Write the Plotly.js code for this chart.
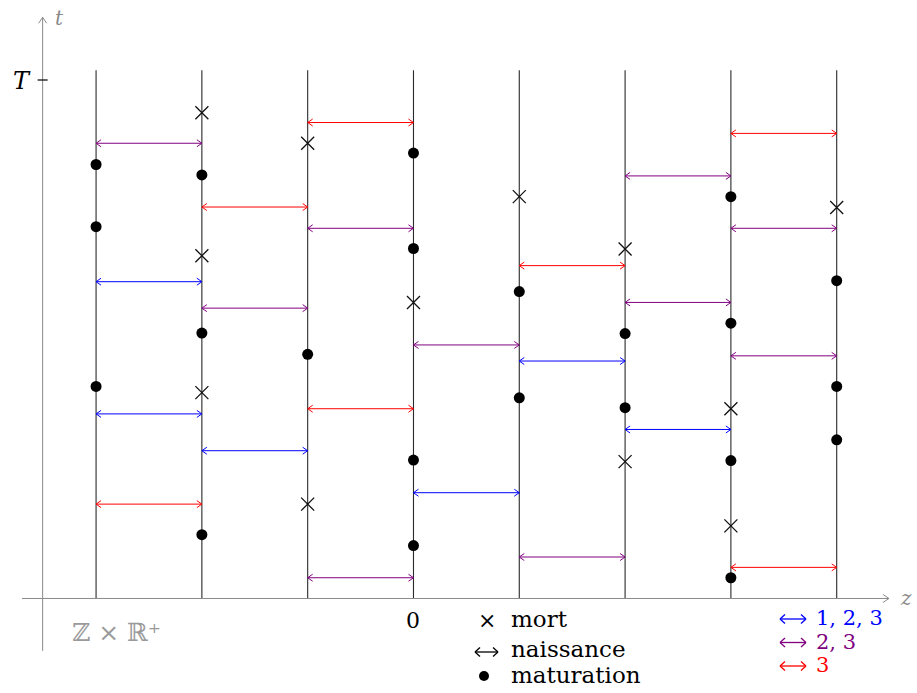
<!DOCTYPE html>
<html>
<head>
<meta charset="utf-8">
<script src="https://cdn.plot.ly/plotly-3.0.1.min.js"></script>
<style>html,body{margin:0;padding:0;background:#fff;}#chart{width:917px;height:693px;}</style>
</head>
<body>
<div id="chart"></div>
<script>
// ---- data (z = site index, t = time, T = 10) ----
const columns = [-3, -2, -1, 0, 1, 2, 3, 4];
const T = 10;

// deaths (×)
const deathZ = [-2, -2, -2, -1, -1, 0, 1, 2, 2, 3, 3, 4];
const deathT = [9.37, 6.61, 3.97, 8.78, 1.82, 5.71, 7.75, 6.74, 2.64, 3.66, 1.40, 7.54];

// maturations (●)
const matZ = [-3, -3, -3, -2, -2, -2, -1, 0, 0, 0, 0, 1, 1, 2, 2, 3, 3, 3, 3, 4, 4, 4];
const matT = [8.37, 7.17, 4.09, 8.17, 5.12, 1.23, 4.71, 8.59, 6.75, 2.67, 1.02, 5.92, 3.87, 5.11, 3.68, 7.75, 5.31, 2.66, 0.40, 6.13, 4.09, 3.06];

// births (↔) between z and z+1 ; type 1 = "1,2,3", 2 = "2,3", 3 = "3"
const birthZ = [-3, -3, -3, -3, -2, -2, -2, -1, -1, -1, -1, 0, 0, 1, 1, 1, 2, 2, 2, 3, 3, 3, 3];
const birthT = [8.78, 6.11, 3.56, 1.82, 7.55, 5.60, 2.85, 9.18, 7.14, 3.66, 0.40, 4.89, 2.04, 6.42, 4.58, 0.80, 8.15, 5.71, 3.26, 8.97, 7.14, 4.68, 0.60];
const birthType = [2, 1, 1, 3, 3, 2, 1, 3, 2, 3, 2, 2, 1, 3, 1, 2, 2, 2, 1, 3, 2, 2, 3];

const typeColors = {1: '#0000ff', 2: '#800080', 3: '#ff0000'};
const typeLabels = {1: '1, 2, 3', 2: '2, 3', 3: '3'};

// ---- geometry ----
const W = 917, H = 693;
const xr = [-3.908, 4.759], yr = [-1.823, 11.543];
const ux = W / (xr[1] - xr[0]);  // px per z unit
const uy = H / (yr[1] - yr[0]);  // px per t unit
const lineTop = 10.19;

function vHead(x, y, dir, lenPx, halfPx) {
  const dx = lenPx / ux, dy = halfPx / uy;
  return {x: [x - dir * dx, x, x - dir * dx, null], y: [y + dy, y, y - dy, null]};
}

const traces = [];

// births
[1, 2, 3].forEach(tp => {
  const xs = [], ys = [];
  birthZ.forEach((z, i) => {
    if (birthType[i] !== tp) return;
    const t = birthT[i];
    xs.push(z, z + 1, null); ys.push(t, t, null);
    const h1 = vHead(z, t, -1, 5, 3.5), h2 = vHead(z + 1, t, 1, 5, 3.5);
    xs.push(...h1.x, ...h2.x); ys.push(...h1.y, ...h2.y);
  });
  traces.push({x: xs, y: ys, mode: 'lines', line: {color: typeColors[tp], width: 1}, hoverinfo: 'skip', showlegend: false});
});

// deaths
traces.push({x: deathZ, y: deathT, mode: 'markers', marker: {symbol: 'x-thin-open', size: 13, color: '#111', line: {color: '#111', width: 1.3}}, hoverinfo: 'skip', showlegend: false});
// maturations
traces.push({x: matZ, y: matT, mode: 'markers', marker: {symbol: 'circle', size: 11, color: '#000'}, hoverinfo: 'skip', showlegend: false});

// axes (gray with open arrow tips)
const axColor = '#8a8a8a';
const axX = [-3.70, 4.494], axY = [-1.01, 11.21], axYpos = -3.505;
{
  const xs = [axX[0], axX[1], null, axYpos, axYpos, null];
  const ys = [0, 0, null, axY[0], axY[1], null];
  const hx = vHead(axX[1], 0, 1, 6, 4);
  xs.push(...hx.x); ys.push(...hx.y);
  const dx = 4 / ux, dy = 6 / uy;
  xs.push(axYpos - dx, axYpos, axYpos + dx, null); ys.push(axY[1] - dy, axY[1], axY[1] - dy, null);
  traces.unshift({x: xs, y: ys, mode: 'lines', line: {color: axColor, width: 1}, hoverinfo: 'skip', showlegend: false});
}

const shapes = columns.map(z => ({type: 'line', xref: 'x', yref: 'y', x0: z, x1: z, y0: 0, y1: lineTop, line: {color: '#2a2a2a', width: 1.1}, layer: 'below'}));
// T tick
shapes.push({type: 'line', xref: 'x', yref: 'y', x0: axYpos - 5 / ux, x1: axYpos + 5 / ux, y0: T, y1: T, line: {color: '#000', width: 1.2}});
// legend dot
shapes.push({type: 'circle', xref: 'paper', yref: 'paper', x0: 479 / W, x1: 489 / W, y0: 1 - 681 / H, y1: 1 - 671 / H, fillcolor: '#000', line: {color: '#000', width: 0}});

// legend double arrows drawn as paper-space segments
function legendArrow(x0, x1, y, color) {
  const P = (px, py) => [px / W, 1 - py / H];
  const seg = (a, b) => ({type: 'line', xref: 'paper', yref: 'paper', x0: P(...a)[0], y0: P(...a)[1], x1: P(...b)[0], y1: P(...b)[1], line: {color: color, width: 1.3}});
  shapes.push(seg([x0, y], [x1, y]));
  shapes.push(seg([x0 + 5, y - 4.5], [x0, y]), seg([x0 + 5, y + 4.5], [x0, y]));
  shapes.push(seg([x1 - 5, y - 4.5], [x1, y]), seg([x1 - 5, y + 4.5], [x1, y]));
}
legendArrow(475, 498, 652, '#000');

const serif = 'DejaVu Serif, Liberation Serif, serif';
function ann(text, xp, yp, size, color, xanchor, extra) {
  return Object.assign({text: text, xref: 'paper', yref: 'paper', x: xp / W, y: 1 - yp / H, showarrow: false,
    xanchor: xanchor || 'center', yanchor: 'middle', font: {family: serif, size: size, color: color}}, extra || {});
}

const annotations = [
  ann('<i>t</i>', 59, 18, 20, '#8a8a8a'),
  ann('<i>z</i>', 906, 598, 20, '#8a8a8a'),
  ann('<i>T</i>', 22, 81, 24, '#000'),
  ann('0', 413, 620, 22, '#000'),
  ann('ℤ × ℝ⁺', 116, 632, 25, '#9a9a9a'),
  ann('×', 487, 620, 22, '#000'),
  ann('mort', 509, 619, 23, '#000', 'left'),
  ann('naissance', 509, 649, 23, '#000', 'left'),
  ann('maturation', 509, 675, 23, '#000', 'left')
];
[1, 2, 3].forEach((tp, k) => {
  const y = 619 + k * 23.5;
  legendArrow(780, 806, y, typeColors[tp]);
  annotations.push(ann(typeLabels[tp], 814, y - 1, 21, typeColors[tp], 'left'));
});

const layout = {
  width: W, height: H,
  margin: {l: 0, r: 0, t: 0, b: 0, pad: 0},
  paper_bgcolor: '#fff', plot_bgcolor: '#fff',
  xaxis: {range: xr, visible: false, fixedrange: true},
  yaxis: {range: yr, visible: false, fixedrange: true},
  showlegend: false,
  shapes: shapes,
  annotations: annotations
};

Plotly.newPlot('chart', traces, layout, {staticPlot: true, displayModeBar: false});
</script>
</body>
</html>
